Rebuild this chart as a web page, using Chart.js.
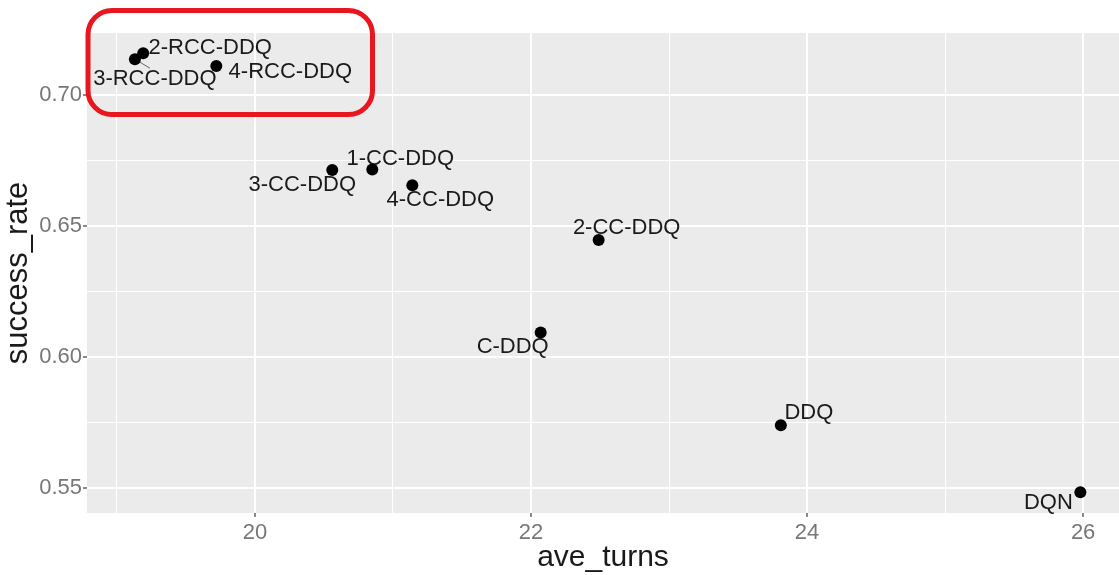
<!DOCTYPE html>
<html>
<head>
<meta charset="utf-8">
<script src="https://cdn.jsdelivr.net/npm/chart.js@4"></script>
<style>
  html, body { margin: 0; padding: 0; background: #fff; }
  #wrap { width: 1119px; height: 575px; position: relative; }
</style>
</head>
<body>
<div id="wrap"><canvas id="scatter"></canvas></div>
<script>
const models = ["2-RCC-DDQ", "3-RCC-DDQ", "4-RCC-DDQ", "3-CC-DDQ", "1-CC-DDQ",
  "4-CC-DDQ", "2-CC-DDQ", "C-DDQ", "DDQ", "DQN"];
const aveTurns = [19.19, 19.13, 19.72, 20.56, 20.85, 21.14, 22.49, 22.07, 23.81, 25.98];
const successRate = [0.716, 0.7137, 0.7111, 0.6714, 0.6716, 0.6656, 0.6447, 0.6094, 0.574, 0.5484];

// where each text label sits relative to its point (px), like ggrepel put them
const labelOffsets = [[67, -5], [20, 20], [74, 6], [-30, 15], [28, -11],
  [28, 15], [28, -12], [-28, 14], [28, -12], [-32, 11]];
const withSegment = [false, true, false, false, false, false, false, false, false, false];

const FONT = "'Liberation Sans', Arial, sans-serif";

const isMajorX = v => Math.abs(v / 2 - Math.round(v / 2)) < 1e-6;
const isMajorY = v => Math.abs(v * 20 - Math.round(v * 20)) < 1e-6;

const panelBg = {
  id: "panelBg",
  beforeDraw(chart) {
    const { ctx, chartArea: a } = chart;
    ctx.save();
    ctx.fillStyle = "#ebebeb";
    ctx.fillRect(a.left, a.top, a.right - a.left, a.bottom - a.top);
    ctx.restore();
  }
};

const pointLabels = {
  id: "pointLabels",
  beforeDatasetsDraw(chart) {
    const ctx = chart.ctx;
    const pts = chart.getDatasetMeta(0).data;
    ctx.save();
    ctx.font = "22px " + FONT;
    ctx.fillStyle = "#1a1a1a";
    ctx.textAlign = "center";
    ctx.textBaseline = "middle";
    pts.forEach((p, i) => {
      const [dx, dy] = labelOffsets[i];
      if (withSegment[i]) {
        ctx.strokeStyle = "#666";
        ctx.lineWidth = 1;
        ctx.beginPath();
        ctx.moveTo(p.x, p.y);
        ctx.lineTo(p.x + 15, p.y + 9);
        ctx.stroke();
      }
      ctx.fillText(models[i], p.x + dx, p.y + dy);
    });
    ctx.restore();
  }
};

// red highlight box drawn over the top-left group
const highlight = {
  id: "highlight",
  afterDraw(chart) {
    const ctx = chart.ctx;
    ctx.save();
    ctx.strokeStyle = "#e8161e";
    ctx.lineWidth = 5;
    ctx.beginPath();
    ctx.roundRect(88, 10.5, 284.5, 104, 24);
    ctx.stroke();
    ctx.restore();
  }
};

new Chart(document.getElementById("scatter"), {
  type: "scatter",
  data: {
    datasets: [{
      data: aveTurns.map((x, i) => ({ x, y: successRate[i] })),
      backgroundColor: "#000",
      borderWidth: 0,
      pointRadius: 6,
      pointHoverRadius: 6
    }]
  },
  options: {
    responsive: true,
    maintainAspectRatio: false,
    animation: false,
    events: [],
    layout: { autoPadding: false, padding: { top: 33, right: 0, left: 0, bottom: 0 } },
    plugins: {
      legend: { display: false },
      tooltip: { enabled: false }
    },
    scales: {
      x: {
        type: "linear",
        min: 18.783,
        max: 26.26,
        afterFit: s => { s.height = 62; },
        border: { display: false },
        grid: {
          color: c => "#ffffff",
          lineWidth: c => (isMajorX(c.tick.value) ? 2 : 1),
          tickColor: c => (isMajorX(c.tick.value) ? "#8a8a8a" : "rgba(0,0,0,0)"),
          tickLength: 4
        },
        ticks: {
          stepSize: 1,
          includeBounds: false,
          autoSkip: false,
          maxRotation: 0,
          padding: 3,
          color: "#777",
          font: { family: FONT, size: 22 },
          callback: v => (isMajorX(v) ? String(v) : "")
        },
        title: {
          display: true,
          text: "ave_turns",
          color: "#1a1a1a",
          font: { family: FONT, size: 30, lineHeight: 1.17 },
          padding: 0
        }
      },
      y: {
        type: "linear",
        min: 0.5405,
        max: 0.7237,
        afterFit: s => { s.width = 87; },
        border: { display: false },
        grid: {
          color: c => "#ffffff",
          lineWidth: c => (isMajorY(c.tick.value) ? 2 : 1),
          tickColor: c => (isMajorY(c.tick.value) ? "#8a8a8a" : "rgba(0,0,0,0)"),
          tickLength: 4
        },
        ticks: {
          stepSize: 0.025,
          includeBounds: false,
          autoSkip: false,
          padding: 1,
          color: "#777",
          font: { family: FONT, size: 22 },
          callback: v => (isMajorY(v) ? v.toFixed(2) : "")
        },
        title: {
          display: true,
          text: "success_rate",
          color: "#1a1a1a",
          font: { family: FONT, size: 31, lineHeight: 1.2 },
          padding: 0
        }
      }
    }
  },
  plugins: [panelBg, pointLabels, highlight]
});
</script>
</body>
</html>
